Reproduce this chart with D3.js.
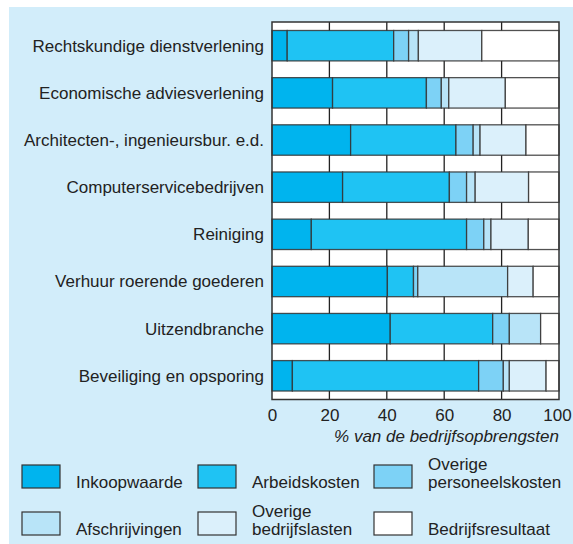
<!DOCTYPE html>
<html>
<head>
<meta charset="utf-8">
<script src="https://cdn.jsdelivr.net/npm/d3@7"></script>
<style>
  body { margin: 0; background: #fff; }
  svg { display: block; font-family: "Liberation Sans", Arial, sans-serif; }
</style>
</head>
<body>
<div id="chart"></div>
<script>
// categories, top to bottom
var categories = [
    "Rechtskundige dienstverlening",
    "Economische adviesverlening",
    "Architecten-, ingenieursbur. e.d.",
    "Computerservicebedrijven",
    "Reiniging",
    "Verhuur roerende goederen",
    "Uitzendbranche",
    "Beveiliging en opsporing"
];

// % van de bedrijfsopbrengsten, per series
var inkoopwaarde   = [5.3, 21.1, 27.4, 24.6, 13.7, 40.2, 41.2, 7.1];
var arbeidskosten  = [37.1, 32.7, 36.7, 37.2, 54.1, 9.1, 35.7, 64.9];
var overigePers    = [5.2, 5.2, 6.0, 6.0, 6.0, 1.5, 5.8, 8.6];
var afschrijvingen = [3.4, 2.6, 2.4, 3.0, 2.5, 31.3, 10.9, 2.1];
var overigeBedr    = [22.1, 19.7, 16.0, 18.6, 13.0, 8.9, 0, 12.8];
var resultaat      = [26.9, 18.7, 11.5, 10.6, 10.7, 9.0, 6.4, 4.5];

var seriesKeys = ["ink", "arb", "opk", "afs", "obl", "res"];
var seriesLabels = [
    ["Inkoopwaarde"],
    ["Arbeidskosten"],
    ["Overige", "personeelskosten"],
    ["Afschrijvingen"],
    ["Overige", "bedrijfslasten"],
    ["Bedrijfsresultaat"]
];
var xTicks = [0, 20, 40, 60, 80, 100];

var colors = ["#00b4ee", "#1fc3f3", "#7dd2f6", "#b8e4f8", "#dbf0fb", "#ffffff"];

// table for d3.stack
var table = categories.map(function (c, i) {
    return {
        cat: c,
        ink: inkoopwaarde[i], arb: arbeidskosten[i], opk: overigePers[i],
        afs: afschrijvingen[i], obl: overigeBedr[i], res: resultaat[i]
    };
});

var W = 573, H = 544;
var margin = { top: 22, right: 14, bottom: 144.5, left: 272 };

var svg = d3.select("#chart").append("svg")
    .attr("width", W)
    .attr("height", H);

// light blue panel
svg.append("rect")
    .attr("x", 9).attr("y", 7)
    .attr("width", W - 9).attr("height", H - 7)
    .attr("fill", "#d2edfa");

var x = d3.scaleLinear()
    .domain([0, 100])
    .range([margin.left, W - margin.right]);

var y = d3.scaleBand()
    .domain(categories)
    .range([margin.top, H - margin.bottom])
    .paddingInner(0.355)
    .paddingOuter(0.18);

// white plot area
svg.append("rect")
    .attr("x", x(0)).attr("y", margin.top)
    .attr("width", x(100) - x(0))
    .attr("height", H - margin.bottom - margin.top)
    .attr("fill", "#fff");

// vertical gridlines
svg.append("g")
    .selectAll("line")
    .data(xTicks.slice(1, -1))
    .enter().append("line")
        .attr("x1", function (d) { return x(d); })
        .attr("x2", function (d) { return x(d); })
        .attr("y1", margin.top)
        .attr("y2", H - margin.bottom)
        .attr("stroke", "#222")
        .attr("stroke-width", 1.3);

// stacked bars
var stack = d3.stack().keys(seriesKeys);
var layers = stack(table);

var layer = svg.append("g")
    .selectAll("g")
    .data(layers)
    .enter().append("g")
        .attr("fill", function (d, i) { return colors[i]; });

layer.selectAll("rect")
    .data(function (d) { return d; })
    .enter().append("rect")
        .attr("x", function (d) { return x(d[0]); })
        .attr("y", function (d) { return y(d.data.cat); })
        .attr("width", function (d) { return x(d[1]) - x(d[0]); })
        .attr("height", y.bandwidth())
        .attr("stroke", "#333")
        .attr("stroke-opacity", 0.85)
        .attr("stroke-width", 1.3);

// frame
svg.append("rect")
    .attr("x", x(0)).attr("y", margin.top)
    .attr("width", x(100) - x(0))
    .attr("height", H - margin.bottom - margin.top)
    .attr("fill", "none")
    .attr("stroke", "#333")
    .attr("stroke-width", 1.5);

// category labels
svg.append("g")
    .selectAll("text")
    .data(categories)
    .enter().append("text")
        .attr("x", margin.left - 8)
        .attr("y", function (d) { return y(d) + y.bandwidth() / 2 + 6; })
        .attr("text-anchor", "end")
        .attr("fill", "#222")
        .style("font-size", "17px")
        .text(function (d) { return d; });

// x axis
var xAxis = svg.append("g")
    .attr("transform", "translate(0," + (H - margin.bottom) + ")")
    .call(d3.axisBottom(x).tickValues(xTicks).tickSize(0).tickPadding(9));
xAxis.select(".domain").remove();
xAxis.selectAll("text")
    .attr("fill", "#222")
    .style("font-size", "17px")
    .style("font-family", "'Liberation Sans', Arial, sans-serif")
    .attr("dx", function (d) { return d === 100 ? "-2" : "0"; });

// x axis title
svg.append("text")
    .attr("x", x(100))
    .attr("y", 442)
    .attr("text-anchor", "end")
    .attr("fill", "#222")
    .style("font-size", "17px")
    .style("font-style", "italic")
    .text("% van de bedrijfsopbrengsten");

// legend
var legendCols = [22, 198, 374];
var legendRows = [465, 512];

var item = svg.append("g")
    .selectAll("g")
    .data(seriesLabels)
    .enter().append("g")
        .attr("transform", function (d, i) {
            return "translate(" + legendCols[i % 3] + "," + legendRows[Math.floor(i / 3)] + ")";
        });

item.append("rect")
    .attr("width", 38)
    .attr("height", 23)
    .attr("fill", function (d, i) { return colors[i]; })
    .attr("stroke", "#333")
    .attr("stroke-width", 1.2);

item.each(function (lines) {
    var g = d3.select(this);
    lines.forEach(function (t, j) {
        g.append("text")
            .attr("x", 54)
            .attr("y", 23 - (lines.length - 1 - j) * 18)
            .attr("fill", "#222")
            .style("font-size", "17px")
            .text(t);
    });
});
</script>
</body>
</html>
